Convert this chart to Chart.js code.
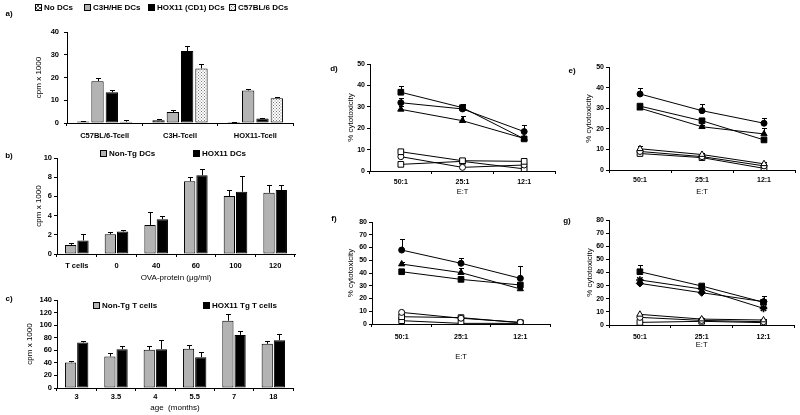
<!DOCTYPE html>
<html><head><meta charset="utf-8">
<script src="https://cdn.jsdelivr.net/npm/chart.js@4.4.1/dist/chart.umd.min.js"></script>
<style>
html,body{margin:0;padding:0;background:#fff;}
#wrap{position:relative;width:800px;height:415px;overflow:hidden;background:#fff;}
canvas{position:absolute;}
.lbl{position:absolute;font:bold 8px "Liberation Sans",Arial,sans-serif;color:#000;transform:translate(-50%,-50%);white-space:nowrap;}
</style></head><body>
<div id="wrap">
<canvas id="ca" width="300" height="145" style="left:0px;top:0px"></canvas>
<canvas id="cb" width="300" height="140" style="left:0px;top:145px"></canvas>
<canvas id="cc" width="300" height="130" style="left:0px;top:285px"></canvas>
<canvas id="cd" width="240" height="175" style="left:320px;top:30px"></canvas>
<canvas id="ce" width="240" height="175" style="left:560px;top:30px"></canvas>
<canvas id="cf" width="240" height="155" style="left:320px;top:210px"></canvas>
<canvas id="cg" width="240" height="145" style="left:560px;top:210px"></canvas>
<div class="lbl" style="left:9px;top:13px">a)</div>
<div class="lbl" style="left:9px;top:155px">b)</div>
<div class="lbl" style="left:9px;top:298px">c)</div>
<div class="lbl" style="left:334px;top:68px">d)</div>
<div class="lbl" style="left:572px;top:70px">e)</div>
<div class="lbl" style="left:334px;top:218px">f)</div>
<div class="lbl" style="left:567px;top:220px">g)</div>
</div>
<script>
// ---------- DATA ----------
// panel a
const aCategories = ['C57BL/6-Tcell', 'C3H-Tcell', 'HOX11-Tcell'];
const aNames = ['No DCs', 'C3H/HE DCs', 'HOX11 (CD1) DCs', 'C57BL/6 DCs'];
const aNoDCs = [0.7, 1.2, 0.4];
const aNoDCsErr = [0.3, 0.5, 0.2];
const aC3H = [18.4, 4.8, 14.3];
const aC3HErr = [1.2, 1.0, 0.5];
const aHOX = [13.5, 31.6, 2.0];
const aHOXErr = [1.0, 2.1, 0.2];
const aC57 = [0.6, 24.0, 10.9];
const aC57Err = [0.6, 1.9, 0.4];
const aTicks = {max: 40, step: 10};
// panel b
const bCategories = ['T cells', '0', '40', '60', '100', '120'];
const bNames = ['Non-Tg DCs', 'HOX11 DCs'];
const bNonTg = [0.95, 2.07, 3.03, 7.59, 6.03, 6.38];
const bNonTgErr = [0.22, 0.17, 1.38, 0.44, 0.63, 0.79];
const bHOX = [1.41, 2.34, 3.62, 8.2, 6.48, 6.66];
const bHOXErr = [0.69, 0.18, 0.35, 0.7, 1.66, 0.51];
const bTicks = {max: 10, step: 1};
// panel c
const cCategories = ['3', '3.5', '4', '5.5', '7', '18'];
const cNames = ['Non-Tg T cells', 'HOX11 Tg T cells'];
const cNonTg = [40.7, 50.2, 60.7, 62.3, 107, 70.3];
const cNonTgErr = [2.6, 5.3, 6.3, 6.4, 10, 4.7];
const cHOX = [72.4, 61.8, 61.8, 49, 84.5, 76];
const cHOXErr = [3.1, 5.2, 14.8, 8, 6.5, 9.6];
const cTicks = {max: 140, step: 20};
// panels d-g
const ratios = ['50:1', '25:1', '12:1'];
const dFilledSquare = [36.8, 29.6, 15.0];   const dFilledSquareErr = [2.9, 1.5, 0.6];
const dFilledCircle = [31.9, 29.0, 18.4];   const dFilledCircleErr = [2.1, 2.0, 3.1];
const dFilledTriangle = [28.8, 23.5, 15.2]; const dFilledTriangleErr = [1.5, 2.2, 0.8];
const dOpenSquare = [9.0, 4.8, 4.5];        const dOpenSquareErr = [0.5, 0.5, 1.0];
const dOpenCircle = [6.7, 1.7, 2.8];        const dOpenCircleErr = [0, 0, 0];
const dOpenTriangle = [3.1, 4.5, 1.0];      const dOpenTriangleErr = [0, 0, 0];
const eFilledCircle = [36.9, 28.8, 22.7];   const eFilledCircleErr = [2.8, 3.1, 2.7];
const eFilledSquare = [31.0, 23.9, 14.6];   const eFilledSquareErr = [0.8, 0.8, 0.5];
const eFilledTriangle = [30.0, 21.0, 17.5]; const eFilledTriangleErr = [0.8, 0.8, 2.7];
const eOpenTriangle = [10.3, 7.5, 3.0];     const eOpenTriangleErr = [1.2, 0.8, 1.0];
const eOpenCircle = [9.0, 6.5, 2.0];        const eOpenCircleErr = [0, 0, 0];
const eOpenSquare = [8.0, 6.0, 0.8];        const eOpenSquareErr = [0, 0, 0];
const fFilledCircle = [58.0, 47.6, 35.8];   const fFilledCircleErr = [8.7, 4.4, 9.9];
const fFilledTriangle = [47.0, 40.3, 27.5]; const fFilledTriangleErr = [1.9, 3.9, 1.0];
const fFilledSquare = [41.0, 35.0, 30.6];   const fFilledSquareErr = [2.0, 1.0, 1.0];
const fOpenCircle = [9.1, 4.5, 1.3];        const fOpenCircleErr = [0, 0, 0];
const fOpenSquare = [5.7, 5.0, 1.0];        const fOpenSquareErr = [0, 0.5, 0.5];
const fOpenTriangle = [2.6, 0.5, 0.5];      const fOpenTriangleErr = [0, 0, 0];
const gFilledSquare = [40.6, 29.7, 17.3];   const gFilledSquareErr = [5.1, 1.0, 4.7];
const gFilledStar = [34.3, 27.4, 12.7];     const gFilledStarErr = [1.0, 1.0, 1.0];
const gFilledDiamond = [31.7, 24.6, 17.8];  const gFilledDiamondErr = [0.8, 0.8, 0.8];
const gOpenTriangle = [8.1, 4.5, 3.8];      const gOpenTriangleErr = [0.5, 0.5, 0.5];
const gOpenCircle = [5.8, 3.5, 2.5];        const gOpenCircleErr = [0, 0, 0];
const gOpenSquare = [2.0, 2.8, 1.8];        const gOpenSquareErr = [0, 0, 0];
const dTicks = {max: 50, step: 10};
const fTicks = {max: 80, step: 10};

// ---------- STYLE HELPERS ----------
const FAM = '"Liberation Sans", Arial, sans-serif';
function hatchPattern() {
  const c = document.createElement('canvas'); c.width = 4; c.height = 4;
  const x = c.getContext('2d');
  x.fillStyle = '#fff'; x.fillRect(0, 0, 4, 4);
  x.strokeStyle = '#444'; x.lineWidth = 0.9;
  x.beginPath(); x.moveTo(0, 0); x.lineTo(4, 4); x.moveTo(4, 0); x.lineTo(0, 4); x.stroke();
  return x.createPattern(c, 'repeat');
}
function dotPattern() {
  const c = document.createElement('canvas'); c.width = 3; c.height = 3;
  const x = c.getContext('2d');
  x.fillStyle = '#fff'; x.fillRect(0, 0, 3, 3);
  x.fillStyle = '#777'; x.fillRect(0, 0, 1, 1); x.fillRect(1.5, 1.5, 1, 1);
  return x.createPattern(c, 'repeat');
}
const GRAY = '#b3b3b3';

const errorBars = {
  id: 'errorBars',
  draw(chart, opts) {
    const ctx = chart.ctx;
    chart.data.datasets.forEach((ds, i) => {
      if (!ds.errorPlus) return;
      const meta = chart.getDatasetMeta(i);
      const ys = chart.scales[meta.yAxisID];
      ctx.save();
      ctx.strokeStyle = '#000'; ctx.lineWidth = 1;
      meta.data.forEach((el, j) => {
        const e = ds.errorPlus[j]; if (!e) return;
        const v = ds.data[j];
        const x = Math.round(el.x) + 0.5;
        const y0 = ys.getPixelForValue(v);
        const y1 = Math.round(ys.getPixelForValue(v + e)) + 0.5;
        const w = opts.cap || 2.5;
        ctx.beginPath();
        ctx.moveTo(x, y0); ctx.lineTo(x, y1);
        ctx.moveTo(x - w, y1); ctx.lineTo(x + w, y1);
        ctx.stroke();
      });
      ctx.restore();
    });
  },
  beforeDatasetsDraw(chart, args, opts) { if (opts.before) this.draw(chart, opts); },
  afterDatasetsDraw(chart, args, opts) { if (!opts.before) this.draw(chart, opts); }
};

const boxLegend = {
  id: 'boxLegend',
  afterDraw(chart, args, opts) {
    if (!opts.xs) return;
    const ctx = chart.ctx, b = opts.box || 7;
    ctx.save();
    ctx.font = opts.font;
    ctx.textBaseline = 'middle';
    ctx.textAlign = 'left';
    chart.data.datasets.forEach((ds, i) => {
      const x = opts.xs[i], y = opts.y;
      const top = Math.round(y - b / 2);
      ctx.fillStyle = ds.backgroundColor;
      ctx.fillRect(x, top, b, b);
      ctx.strokeStyle = '#000'; ctx.lineWidth = 1;
      ctx.strokeRect(x + 0.5, top + 0.5, b - 1, b - 1);
      ctx.fillStyle = '#000';
      ctx.fillText(ds.label, x + b + 2, y + 0.5);
    });
    ctx.restore();
  }
};

function yAxis(t, title, g) {
  return {
    min: 0, max: t.max,
    ticks: {stepSize: t.step, color: '#000', padding: g.tickPadY, font: {family: FAM, size: g.tickSize || 7.5, weight: 'bold'}},
    grid: {display: true, drawOnChartArea: false, drawTicks: true, tickLength: 3, color: '#000', lineWidth: 1},
    border: {display: true, color: '#000', width: 1},
    title: {display: true, text: title, color: '#000', padding: {top: g.titlePadY, bottom: 0}, font: {family: FAM, size: g.ytSize || 8}},
    afterFit(s) { s.width = g.yW; }
  };
}
function xAxis(title, g) {
  return {
    type: 'category', offset: true,
    ticks: {color: '#000', padding: g.tickPadX, maxRotation: 0, autoSkip: false, font: {family: FAM, size: g.tickSize || 7.5, weight: 'bold'}},
    grid: {display: true, offset: true, drawOnChartArea: false, drawTicks: true, tickLength: 3, color: '#000', lineWidth: 1},
    border: {display: true, color: '#000', width: 1},
    title: {display: !!title, text: title || '', color: '#000', padding: {top: 0, bottom: g.titlePadX || 0}, font: {family: FAM, size: g.xtSize || 8}},
    afterFit(s) { s.height = g.xH; }
  };
}
function baseOptions(g, legend, scales) {
  return {
    responsive: false, animation: false, events: [],
    layout: {padding: {top: g.pT, right: g.pR, bottom: 0, left: 0}},
    plugins: {legend: {display: false}, tooltip: {enabled: false}, title: {display: false},
      errorBars: {before: g.errBefore, cap: g.cap}, boxLegend: legend || {}},
    scales
  };
}
function barDs(label, data, err, bg) {
  return {label, data, errorPlus: err, backgroundColor: bg, borderColor: '#000', borderWidth: 1, borderSkipped: false};
}

// ---------- PANEL a ----------
const gA = {pT: 32, pR: 7, yW: 67, xH: 22, tickPadY: 5, tickPadX: 5.5, titlePadY: 33.5, cap: 2.5};
new Chart(document.getElementById('ca'), {
  type: 'bar',
  data: {labels: aCategories, datasets: [
    barDs(aNames[0], aNoDCs, aNoDCsErr, hatchPattern()),
    barDs(aNames[1], aC3H, aC3HErr, GRAY),
    barDs(aNames[2], aHOX, aHOXErr, '#000'),
    barDs(aNames[3], aC57, aC57Err, dotPattern())
  ].map(d => Object.assign(d, {categoryPercentage: 0.76, barPercentage: 0.86}))},
  options: baseOptions(gA, {xs: [35, 84, 148, 229], y: 7, box: 7, font: 'bold 8px ' + FAM},
    {x: xAxis(null, gA), y: yAxis(aTicks, 'cpm x 1000', gA)}),
  plugins: [errorBars, boxLegend]
});

// ---------- PANEL b ----------
const gB = {pT: 13, pR: 5, yW: 57, xH: 31, tickPadY: 2, tickPadX: 4.8, titlePadY: 33.5, titlePadX: 2.5, cap: 2.5};
new Chart(document.getElementById('cb'), {
  type: 'bar',
  data: {labels: bCategories, datasets: [
    barDs(bNames[0], bNonTg, bNonTgErr, GRAY),
    barDs(bNames[1], bHOX, bHOXErr, '#000')
  ].map(d => Object.assign(d, {categoryPercentage: 0.62, barPercentage: 0.92}))},
  options: baseOptions(gB, {xs: [100, 193], y: 8, box: 7, font: 'bold 8px ' + FAM},
    {x: xAxis('OVA-protein (\u03bcg/ml)', gB), y: yAxis(bTicks, 'cpm x 1000', gB)}),
  plugins: [errorBars, boxLegend]
});

// ---------- PANEL c ----------
const gC = {pT: 15, pR: 7, yW: 57, xH: 27, tickPadY: 2, tickPadX: 1.8, titlePadY: 24.5, titlePadX: 2.5, cap: 2.5};
new Chart(document.getElementById('cc'), {
  type: 'bar',
  data: {labels: cCategories, datasets: [
    barDs(cNames[0], cNonTg, cNonTgErr, GRAY),
    barDs(cNames[1], cHOX, cHOXErr, '#000')
  ].map(d => Object.assign(d, {categoryPercentage: 0.62, barPercentage: 0.92}))},
  options: baseOptions(gC, {xs: [93, 203], y: 20, box: 7, font: 'bold 8px ' + FAM},
    {x: xAxis('age  (months)', gC), y: yAxis(cTicks, 'cpm x 1000', gC)}),
  plugins: [errorBars, boxLegend]
});

// ---------- LINE PANELS ----------
function lineDs(data, err, style, filled) {
  const r = {rect: 4, circle: 3, triangle: 3.6, rectRot: 3.6, star: 3.8}[style];
  return {data, errorPlus: err, borderColor: '#000', borderWidth: 1, tension: 0,
    pointStyle: style, pointRadius: r, pointBorderWidth: style === 'star' ? 1.6 : 1,
    pointBackgroundColor: filled ? '#000' : '#fff', pointBorderColor: '#000', fill: false};
}
function lineChart(id, g, ticks, datasets) {
  new Chart(document.getElementById(id), {
    type: 'line',
    data: {labels: ratios, datasets},
    options: baseOptions(g, null, {x: xAxis('E:T', g), y: yAxis(ticks, '% cytotoxicity', g)}),
    plugins: [errorBars]
  });
}
const lineCommon = {errBefore: true, cap: 2.5, tickPadY: 2, tickSize: 7, ytSize: 8, xtSize: 7.5};
lineChart('cd', Object.assign({pT: 34, pR: 5, yW: 50, xH: 34, tickPadX: 3.8, titlePadY: 26.2, titlePadX: 8.5}, lineCommon), dTicks, [
  lineDs(dFilledSquare, dFilledSquareErr, 'rect', true),
  lineDs(dFilledCircle, dFilledCircleErr, 'circle', true),
  lineDs(dFilledTriangle, dFilledTriangleErr, 'triangle', true),
  lineDs(dOpenSquare, dOpenSquareErr, 'rect', false),
  lineDs(dOpenCircle, dOpenCircleErr, 'circle', false),
  lineDs(dOpenTriangle, dOpenTriangleErr, 'rect', false)
]);
lineChart('ce', Object.assign({pT: 37, pR: 5, yW: 49, xH: 35, tickPadX: 2.8, titlePadY: 23.7, titlePadX: 8.5}, lineCommon), dTicks, [
  lineDs(eFilledCircle, eFilledCircleErr, 'circle', true),
  lineDs(eFilledSquare, eFilledSquareErr, 'rect', true),
  lineDs(eFilledTriangle, eFilledTriangleErr, 'triangle', true),
  lineDs(eOpenTriangle, eOpenTriangleErr, 'triangle', false),
  lineDs(eOpenCircle, eOpenCircleErr, 'circle', false),
  lineDs(eOpenSquare, eOpenSquareErr, 'rect', false)
]);
lineChart('cf', Object.assign({pT: 12, pR: 10, yW: 52, xH: 41, tickPadX: 5.8, titlePadY: 25.7, titlePadX: 3.5}, lineCommon), fTicks, [
  lineDs(fFilledCircle, fFilledCircleErr, 'circle', true),
  lineDs(fFilledTriangle, fFilledTriangleErr, 'triangle', true),
  lineDs(fFilledSquare, fFilledSquareErr, 'rect', true),
  lineDs(fOpenCircle, fOpenCircleErr, 'circle', false),
  lineDs(fOpenSquare, fOpenSquareErr, 'rect', false),
  lineDs(fOpenTriangle, fOpenTriangleErr, 'rect', false)
]);
lineChart('cg', Object.assign({pT: 10, pR: 3, yW: 49, xH: 30, tickPadX: 4.8, titlePadY: 24.7, titlePadX: 5.5}, lineCommon), fTicks, [
  lineDs(gFilledSquare, gFilledSquareErr, 'rect', true),
  lineDs(gFilledStar, gFilledStarErr, 'star', true),
  lineDs(gFilledDiamond, gFilledDiamondErr, 'rectRot', true),
  lineDs(gOpenTriangle, gOpenTriangleErr, 'triangle', false),
  lineDs(gOpenCircle, gOpenCircleErr, 'circle', false),
  lineDs(gOpenSquare, gOpenSquareErr, 'rect', false)
]);
</script>
</body></html>
